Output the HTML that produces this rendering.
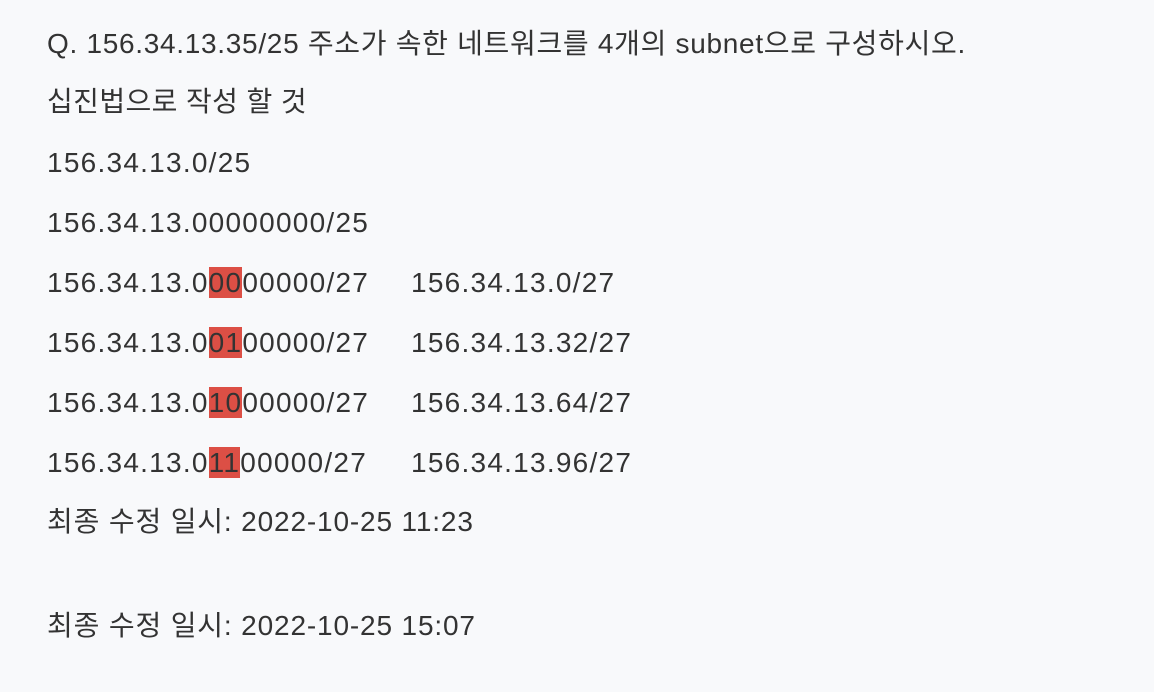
<!DOCTYPE html>
<html><head><meta charset="utf-8">
<style>
html,body{margin:0;padding:0;width:1154px;height:692px;background:#f8f9fb;overflow:hidden}
.l{position:absolute;left:47px;height:40px;line-height:40px;font-size:28px;letter-spacing:1.25px;color:#333;white-space:nowrap;font-family:"Liberation Sans","Noto Sans CJK KR",sans-serif}
.c2{position:absolute;left:364px}
.hl{background:#dc4f45;color:#333}
.ts{letter-spacing:0.85px}
</style></head>
<body>
<div class="l" style="top:24px;letter-spacing:0.7px">Q. 156.34.13.35/25 주소가 속한 네트워크를 4개의 subnet으로 구성하시오.</div>
<div class="l" style="top:82px;letter-spacing:0.4px">십진법으로 작성 할 것</div>
<div class="l" style="top:143px">156.34.13.0/25</div>
<div class="l" style="top:203px">156.34.13.00000000/25</div>
<div class="l" style="top:263px">156.34.13.0<span class="hl">00</span>00000/27<span class="c2">156.34.13.0/27</span></div>
<div class="l" style="top:323px">156.34.13.0<span class="hl">01</span>00000/27<span class="c2">156.34.13.32/27</span></div>
<div class="l" style="top:383px">156.34.13.0<span class="hl">10</span>00000/27<span class="c2">156.34.13.64/27</span></div>
<div class="l" style="top:443px">156.34.13.0<span class="hl">11</span>00000/27<span class="c2">156.34.13.96/27</span></div>
<div class="l ts" style="top:502px">최종 수정 일시: 2022-10-25 11:23</div>
<div class="l ts" style="top:606px">최종 수정 일시: 2022-10-25 15:07</div>
</body></html>
